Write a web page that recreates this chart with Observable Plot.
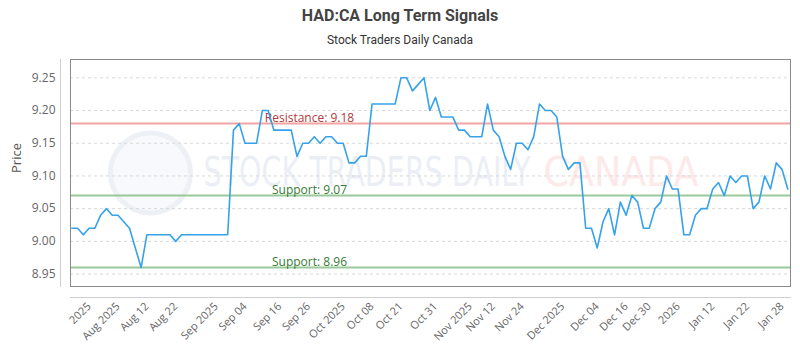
<!DOCTYPE html>
<html>
<head>
<meta charset="utf-8">
<script src="https://cdn.jsdelivr.net/npm/d3@7"></script>
<script src="https://cdn.jsdelivr.net/npm/@observablehq/plot@0.6"></script>
<style>
  html, body { margin: 0; padding: 0; background: #fff; }
  #wrap { position: relative; width: 800px; height: 350px; font-family: "Open Sans", sans-serif; }
  #title { position: absolute; top: 6px; left: 0; width: 800px; text-align: center;
           font: bold 16px/20px Roboto, sans-serif; color: #444; }
  #subtitle { position: absolute; top: 32px; left: 0; width: 800px; text-align: center;
              font: 12px/16px Roboto, sans-serif; color: #333; }
  #chart { position: absolute; top: 50px; left: 0; }
</style>
</head>
<body>
<div id="wrap">
  <div id="title">HAD:CA Long Term Signals</div>
  <div id="subtitle">Stock Traders Daily Canada</div>
  <div id="chart"></div>
</div>
<script>
// Daily closing prices (one per trading session, oldest first)
const prices = [
  9.02, 9.02, 9.01, 9.02, 9.02, 9.04, 9.05, 9.04, 9.04, 9.03,
  9.02, 8.99, 8.96, 9.01, 9.01, 9.01, 9.01, 9.01, 9.00, 9.01,
  9.01, 9.01, 9.01, 9.01, 9.01, 9.01, 9.01, 9.01, 9.17, 9.18,
  9.15, 9.15, 9.15, 9.20, 9.20, 9.17, 9.17, 9.17, 9.17, 9.13,
  9.15, 9.15, 9.16, 9.15, 9.16, 9.16, 9.15, 9.15, 9.12, 9.12,
  9.13, 9.13, 9.21, 9.21, 9.21, 9.21, 9.21, 9.25, 9.25, 9.23,
  9.24, 9.25, 9.20, 9.22, 9.19, 9.19, 9.19, 9.17, 9.17, 9.16,
  9.16, 9.16, 9.21, 9.17, 9.16, 9.13, 9.11, 9.15, 9.15, 9.14,
  9.16, 9.21, 9.20, 9.20, 9.19, 9.13, 9.11, 9.12, 9.12, 9.02,
  9.02, 8.99, 9.03, 9.05, 9.01, 9.06, 9.04, 9.07, 9.06, 9.02,
  9.02, 9.05, 9.06, 9.10, 9.08, 9.08, 9.01, 9.01, 9.04, 9.05,
  9.05, 9.08, 9.09, 9.07, 9.10, 9.09, 9.10, 9.10, 9.05, 9.06,
  9.10, 9.08, 9.12, 9.11, 9.08
];

// X tick labels and the session each one sits on
const tickLabels = [
  "2025", "Aug 2025", "Aug 12", "Aug 22", "Sep 2025", "Sep 04", "Sep 16", "Sep 26",
  "Oct 2025", "Oct 08", "Oct 21", "Oct 31", "Nov 2025", "Nov 12", "Nov 24",
  "Dec 2025", "Dec 04", "Dec 16", "Dec 30", "2026", "Jan 12", "Jan 22", "Jan 28"
];
const tickSessions = [3, 8, 13, 18, 25, 30, 36, 41, 47, 52, 57, 63, 69, 73, 78, 85, 91, 96, 100, 105, 111, 117, 123];

// Signal levels
const resistanceLevels = [9.18];
const supportLevels = [9.07, 8.96];

const series = prices.map((p, i) => ({session: i, price: p}));
const labelOf = new Map(tickSessions.map((s, k) => [s, tickLabels[k]]));

const chart = Plot.plot({
  width: 800,
  height: 300,
  marginLeft: 70,
  marginRight: 10,
  marginTop: 9,
  marginBottom: 64,
  style: {fontFamily: "'Open Sans', sans-serif", color: "#666", background: "transparent", overflow: "visible"},
  x: {type: "linear", domain: [0, prices.length - 1], insetLeft: 1.3, insetRight: 2.7},
  y: {domain: [8.931, 9.278]},
  marks: [
    // watermark
    Plot.dot([0], {frameAnchor: "left", dx: 80, r: 40, stroke: "#edf1f6", strokeWidth: 5, fill: "#f7f9fc"}),
    Plot.text(["STOCK TRADERS DAILY"], {frameAnchor: "left", dx: 133, textAnchor: "start", fontSize: 40, fill: "#ebeff5", fontFamily: "'DejaVu Sans Condensed', 'DejaVu Sans', sans-serif"}),
    Plot.text(["CANADA"], {frameAnchor: "left", dx: 473, textAnchor: "start", fontSize: 40, fill: "#fde9e9", fontFamily: "'DejaVu Sans Condensed', 'DejaVu Sans', sans-serif"}),
    Plot.gridY({stroke: "#d8d8d8", strokeOpacity: 1, strokeDasharray: "3,3"}),
    Plot.ruleY(resistanceLevels, {stroke: "#f2a3a3", strokeWidth: 2}),
    Plot.ruleY(supportLevels, {stroke: "#99c899", strokeWidth: 2}),
    Plot.text(resistanceLevels, {y: d => d, text: d => `Resistance: ${d.toFixed(2)}`, frameAnchor: "left", dx: 239, textAnchor: "middle", lineAnchor: "bottom", dy: -2, fill: "#b23a3a", fontSize: 12}),
    Plot.text(supportLevels, {y: d => d, text: d => `Support: ${d.toFixed(2)}`, frameAnchor: "left", dx: 239, textAnchor: "middle", lineAnchor: "bottom", dy: -2, fill: "#357a35", fontSize: 12}),
    Plot.line(series, {x: "session", y: "price", stroke: "#36a2eb", strokeWidth: 1.6}),
    Plot.frame({stroke: "#8a8a8a"}),
    Plot.frame({anchor: "left", dx: -10, stroke: "#cfcfcf"}),
    Plot.frame({anchor: "bottom", dy: 11, stroke: "#cfcfcf"}),
    Plot.axisY({tickSize: 0, tickPadding: 15, tickFormat: ".2f", fontSize: 12, label: null}),
    Plot.text(["Price"], {frameAnchor: "left", dx: -54, rotate: -90, fontSize: 13, fill: "#555"}),
    Plot.axisX({ticks: tickSessions, tickFormat: d => labelOf.get(d), tickRotate: -45, tickSize: 0, tickPadding: 18, fontSize: 11, label: null})
  ]
});

d3.select(chart).selectAll("text").each(function() {
  const t = this.textContent;
  if (t === "STOCK TRADERS DAILY") { this.setAttribute("textLength", 327); this.setAttribute("lengthAdjust", "spacingAndGlyphs"); }
  if (t === "CANADA") { this.setAttribute("textLength", 155); this.setAttribute("lengthAdjust", "spacingAndGlyphs"); }
});

document.getElementById("chart").appendChild(chart);
</script>
</body>
</html>
